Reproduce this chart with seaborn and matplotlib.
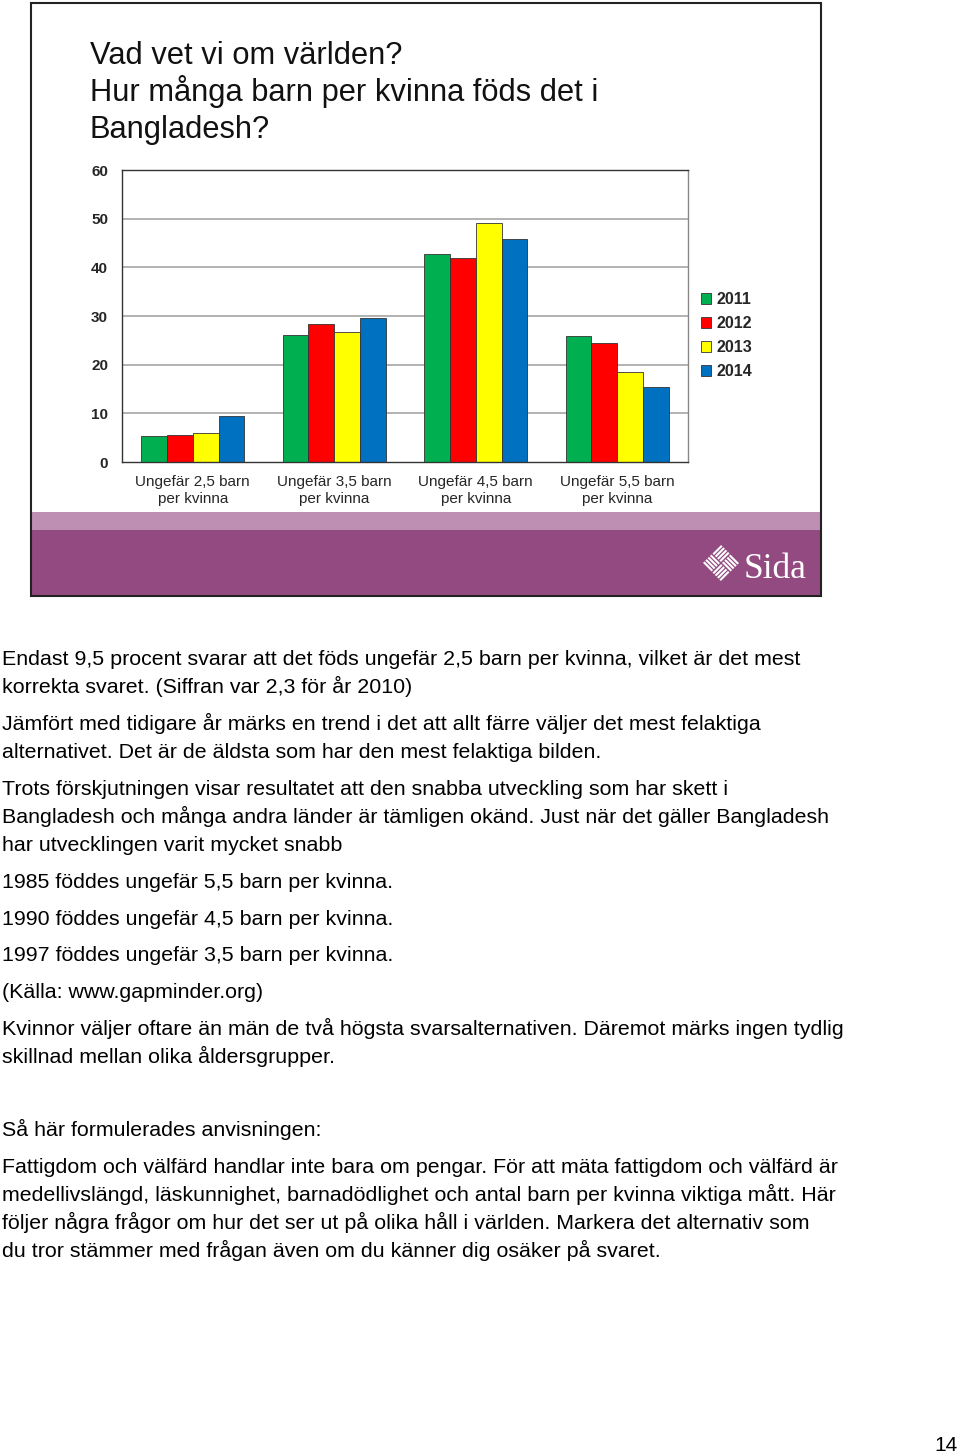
import matplotlib
matplotlib.use("Agg")
import matplotlib.pyplot as plt
from matplotlib.patches import Rectangle
from matplotlib.lines import Line2D
import seaborn as sns
import pandas as pd

# ---------------- data ----------------
categories = ["Ungefär 2,5 barn\nper kvinna", "Ungefär 3,5 barn\nper kvinna",
              "Ungefär 4,5 barn\nper kvinna", "Ungefär 5,5 barn\nper kvinna"]
years = ["2011", "2012", "2013", "2014"]
v2011 = [5.3, 26.1, 42.8, 25.9]
v2012 = [5.5, 28.4, 42.0, 24.4]
v2013 = [6.0, 26.8, 49.1, 18.4]
v2014 = [9.5, 29.5, 45.8, 15.4]
yticks = [0, 10, 20, 30, 40, 50, 60]
colors = ["#00B050", "#FF0000", "#FFFF00", "#0070C0"]

title_lines = ["Vad vet vi om världen?",
               "Hur många barn per kvinna föds det i",
               "Bangladesh?"]

body_lines = [
    "Endast 9,5 procent svarar att det föds ungefär 2,5 barn per kvinna, vilket är det mest",
    "korrekta svaret. (Siffran var 2,3 för år 2010)",
    "Jämfört med tidigare år märks en trend i det att allt färre väljer det mest felaktiga",
    "alternativet. Det är de äldsta som har den mest felaktiga bilden.",
    "Trots förskjutningen visar resultatet att den snabba utveckling som har skett i",
    "Bangladesh och många andra länder är tämligen okänd. Just när det gäller Bangladesh",
    "har utvecklingen varit mycket snabb",
    "1985 föddes ungefär 5,5 barn per kvinna.",
    "1990 föddes ungefär 4,5 barn per kvinna.",
    "1997 föddes ungefär 3,5 barn per kvinna.",
    "(Källa: www.gapminder.org)",
    "Kvinnor väljer oftare än män de två högsta svarsalternativen. Däremot märks ingen tydlig",
    "skillnad mellan olika åldersgrupper.",
    "Så här formulerades anvisningen:",
    "Fattigdom och välfärd handlar inte bara om pengar. För att mäta fattigdom och välfärd är",
    "medellivslängd, läskunnighet, barnadödlighet och antal barn per kvinna viktiga mått. Här",
    "följer några frågor om hur det ser ut på olika håll i världen. Markera det alternativ som",
    "du tror stämmer med frågan även om du känner dig osäker på svaret.",
]
body_y = [658, 686, 723, 751, 788, 816, 844, 881, 918, 954, 991, 1028, 1056,
          1129, 1166, 1194, 1222, 1250]
page_number = "14"

# ---------------- setup ----------------
sns.set_theme(style="white")
plt.rcParams["font.family"] = ["Liberation Sans", "DejaVu Sans"]

W, H = 960, 1453
fig = plt.figure(figsize=(W / 100, H / 100), dpi=100)
fig.patch.set_facecolor("white")

def fx(x):
    return x / W

def fy(y):
    return 1 - y / H

# slide frame and purple bands
fig.patches.append(Rectangle((fx(31), fy(530)), fx(821) - fx(31), fy(512) - fy(530),
                             transform=fig.transFigure, facecolor="#BF8FB3",
                             edgecolor="none", zorder=0))
fig.patches.append(Rectangle((fx(31), fy(596)), fx(821) - fx(31), fy(530) - fy(596),
                             transform=fig.transFigure, facecolor="#934A80",
                             edgecolor="none", zorder=0))
fig.patches.append(Rectangle((fx(31), fy(596)), fx(821) - fx(31), fy(3) - fy(596),
                             transform=fig.transFigure, facecolor="none",
                             edgecolor="#222222", linewidth=1.5, zorder=5))

# title
for i, line in enumerate(title_lines):
    fig.text(fx(90), fy(64 + 37 * i), line, fontsize=22.2, color="#111111",
             va="baseline", ha="left")

# ---------------- chart ----------------
df = pd.DataFrame({
    "cat": categories * 4,
    "year": sum([[y] * 4 for y in years], []),
    "val": v2011 + v2012 + v2013 + v2014,
})

ax = fig.add_axes([fx(122), fy(462), fx(688) - fx(122), fy(170) - fy(462)])
sns.barplot(data=df, x="cat", y="val", hue="year", palette=colors, width=0.73,
            edgecolor="#333333", linewidth=0.6, ax=ax, saturation=1)
ax.set_ylim(0, 60)
ax.set_yticks(yticks)
ax.set_yticklabels([str(t) for t in yticks], fontweight="bold", fontsize=11)
ax.tick_params(axis="y", length=0, pad=10)
ax.tick_params(axis="x", length=0, pad=9.5, labelsize=11)
for lab in ax.get_xticklabels():
    lab.set_linespacing(1.3)
ax.set_xlabel("")
ax.set_ylabel("")
for t in yticks[1:-1]:
    ax.axhline(t, color="#A6A6A6", linewidth=1.2, zorder=0)
ax.set_axisbelow(True)
for s in ax.spines.values():
    s.set_color("#333333")
    s.set_linewidth(1.0)
ax.spines["right"].set_color("#888888")

leg = ax.legend(loc="upper left", bbox_to_anchor=(fx(701), fy(292)),
                bbox_transform=fig.transFigure, frameon=False,
                handlelength=0.65, handleheight=0.65, handletextpad=0.3,
                labelspacing=0.56, prop={"weight": "bold", "size": 11.5},
                borderaxespad=0, borderpad=0)
for h in leg.legend_handles:
    h.set_edgecolor("#333333")
    h.set_linewidth(0.6)

# ---------------- Sida logo ----------------
fig.text(fx(744), fy(578), "Sida", fontsize=25.5, color="white",
         family="Liberation Serif", va="baseline", ha="left")

def seg(x0, y0, x1, y1):
    fig.lines.append(Line2D([fx(x0), fx(x1)], [fy(y0), fy(y1)],
                            transform=fig.transFigure, color="white",
                            linewidth=1.5, solid_capstyle="butt"))

cx, cy, r = 721, 563, 19
h = 8.6
subs = [(cx, cy - r / 2, "u"), (cx, cy + r / 2, "u"),
        (cx - r / 2, cy, "v"), (cx + r / 2, cy, "v")]
for a, b, mode in subs:
    for c in (-6.9, -2.3, 2.3, 6.9):
        if mode == "u":
            u0, v0, u1, v1 = c, -h, c, h
        else:
            u0, v0, u1, v1 = -h, c, h, c
        seg(a + (u0 + v0) / 2, b + (u0 - v0) / 2, a + (u1 + v1) / 2, b + (u1 - v1) / 2)

# ---------------- body text ----------------
for line, y in zip(body_lines, body_y):
    fig.text(fx(2), fy(y + 7), line, fontsize=15.4, color="black",
             va="baseline", ha="left")

fig.text(fx(958), fy(1451), page_number, fontsize=15, color="black",
         va="baseline", ha="right")

fig.savefig("out.png", dpi=100)
